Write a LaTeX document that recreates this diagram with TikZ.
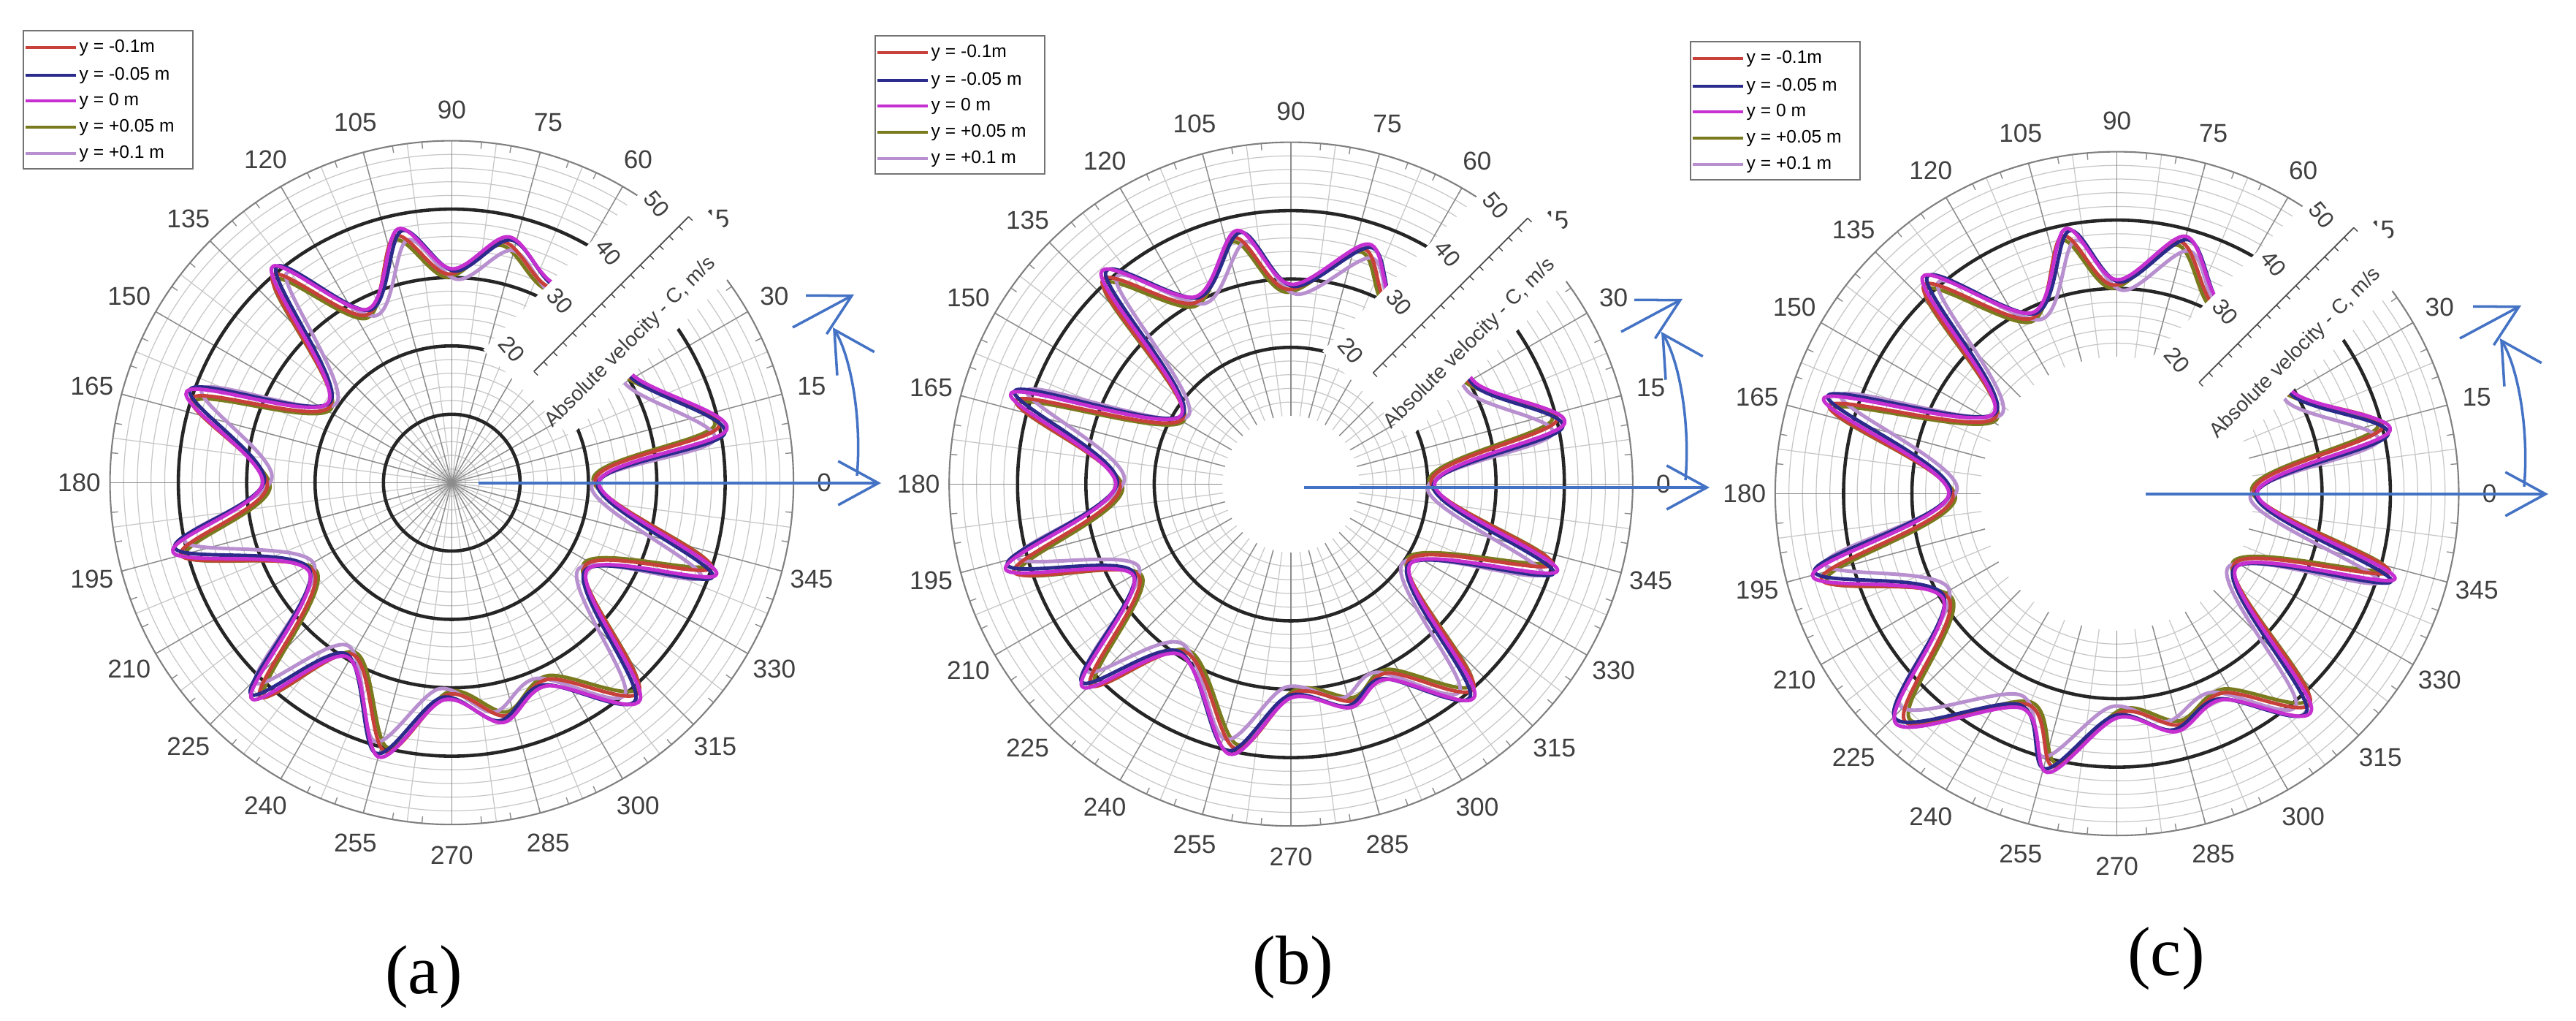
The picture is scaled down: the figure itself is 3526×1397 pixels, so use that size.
\documentclass[tikz,border=0pt]{standalone}
\usepackage{fontspec}
\setmainfont{Liberation Serif}
\setsansfont{Liberation Sans}
\usetikzlibrary{arrows.meta,calc}
\definecolor{cRed}{HTML}{C8403A}
\definecolor{cNavy}{HTML}{2B2B8C}
\definecolor{cMag}{HTML}{C62FD0}
\definecolor{cOlive}{HTML}{7A7A1E}
\definecolor{cLil}{HTML}{B88FCF}
\definecolor{cBlue}{HTML}{4472C4}
\tikzset{
  thinc/.style={draw=black!22, line width=0.35pt},
  spoke/.style={draw=black!22, line width=0.35pt},
  mspoke/.style={draw=black!45, line width=0.4pt},
  thickc/.style={draw=black!85, line width=1.3pt},
  outerc/.style={draw=black!50, line width=0.6pt},
  alabel/.style={font=\sffamily\fontsize{10}{10}\selectfont, text=black!75},
  tlabel/.style={font=\sffamily\fontsize{9}{9}\selectfont, text=black!75, rotate=-50},
  ser/.style={line width=1.4pt, line join=round},
  leg/.style={font=\sffamily\fontsize{7}{7}\selectfont, anchor=west, inner sep=0pt},
  blarrow/.style={draw=cBlue, line width=1pt, -{Straight Barb[length=5.5mm,width=6mm]}},
  sublabel/.style={font=\fontsize{27}{27}\selectfont}
}
\newcommand{\mygrid}[2]{% #1 inner radius, #2 list of thin circles
  \foreach \r in {#2} \path[thinc] (0,0) circle (\r);
  \foreach \t in {0,7.5,...,352.5} \path[spoke] (\t:#1) -- (\t:50);
  \foreach \t in {0,15,...,345} \path[mspoke] (\t:#1) -- (\t:50);
  \foreach \t in {0,5,...,355} \path[mspoke] (\t:49) -- (\t:50);
  \path[outerc] (0,0) circle (50);
  \foreach \t in {0,15,...,345} \node[alabel] at (\t:54.5) {\t};
}
\newcommand{\mycurves}[1]{%
  \draw[ser,cOlive,rotate=1.4,scale=0.985] plot[smooth cycle,tension=0.55] coordinates {#1};
  \draw[ser,cLil,rotate=-1.6,scale=0.975] plot[smooth cycle,tension=0.55] coordinates {#1};
  \draw[ser,cRed,rotate=1.0,scale=1.0] plot[smooth cycle,tension=0.55] coordinates {#1};
  \draw[ser,cNavy,rotate=-0.7,scale=1.015] plot[smooth cycle,tension=0.55] coordinates {#1};
  \draw[ser,cMag,rotate=0,scale=1.025] plot[smooth cycle,tension=0.55] coordinates {#1};
}
\newcommand{\myband}{%
  \begin{scope}[rotate=45]
    \fill[white] (17,-7.5) rectangle (54.5,10.5);
    \draw[black!70, line width=0.5pt] (20,3) -- (52,3);
    \foreach \u in {20,22,...,52} \draw[black!70, line width=0.4pt] (\u,3) -- (\u,2.2);
    \foreach \v in {20,30,40,50} \node[tlabel] at (\v,7.6) {\v};
    \node[font=\sffamily\fontsize{8}{8}\selectfont, text=black!75, rotate=45] at (33,-4) {Absolute velocity - C, m/s};
  \end{scope}
}
\newcommand{\mylegend}[3]{% #1 x, #2 y, #3 name
  \draw[black!55, fill=white, line width=0.5pt] (#1,#2) rectangle ++(232,189);
  \foreach \c/\t/\dy [count=\i] in {cRed/{y = -0.1m}/23, cNavy/{y = -0.05 m}/61, cMag/{y = 0 m}/96, cOlive/{y = +0.05 m}/132, cLil/{y = +0.1 m}/168}{
    \draw[\c, line width=1.4pt] (#1+3,#2+\dy) -- (#1+72,#2+\dy);
    \node[leg] (#3\i) at (#1+76,#2+\dy) {\t};
  }
}
\newcommand{\myarrows}[4]{% #1 name, #2 start x, #3 tip x, #4 tip y
  \coordinate (#1s) at (#2,#4);
  \coordinate (#1t) at (#3,#4);
  \coordinate (#1c1) at ($(#1t)+(-33,-10)$);
  \coordinate (#1c2) at ($(#1t)+(-66,-213)$);
  \coordinate (#1d1) at ($(#1t)+(-121,-213)$);
  \coordinate (#1d2) at ($(#1t)+(-37,-258)$);
  \draw[blarrow] (#1s) -- (#1t);
  \draw[blarrow] (#1c1) .. controls ($(#1t)+(-26,-90)$) and ($(#1t)+(-42,-175)$) .. (#1c2);
  \draw[blarrow] (#1d1) -- (#1d2);
}
\begin{document}
\begin{tikzpicture}[x=0.01cm,y=-0.01cm]
\useasboundingbox (0,0) rectangle (3526,1397);
\fill[white] (0,0) rectangle (3526,1397);
% ---------- (a)
\begin{scope}[shift={(6.18cm,-6.60cm)}, x=0.0935cm, y=0.0935cm]
  \mygrid{0}{2,4,...,48}
  \foreach \r in {10,20,30,40} \path[thickc] (0,0) circle (\r);
  \mycurves{(0:21)(11:40)(31:30)(48:33)(64:32)(77:36)(90:30.5)(102:37)(116:27.5)(130:40)(147:21)(161:40)(180:27)(194:41)(212:24)(227:42)(239:29)(255:40.5)(268:31)(282:35)(295:32)(311:41)(327:23)(341:40)}
  \myband
\end{scope}
% ---------- (b)
\begin{scope}[shift={(17.66cm,-6.62cm)}, x=0.0935cm, y=0.0935cm]
  \mygrid{10}{12,14,...,48}
  \foreach \r in {20,30,40} \path[thickc] (0,0) circle (\r);
  \mycurves{(0:20.5)(12.5:40)(29:30)(47:33)(61:30)(72:36)(90:28.5)(102:37)(117:30)(132:40.5)(148:18.5)(162:42)(180:25)(196.5:42.5)(210:26)(224:41.5)(237:29)(257:39.5)(270:30.5)(285:33)(296:31)(311:40)(326:20.5)(342:40)}
  \myband
\end{scope}
% ---------- (c)
\begin{scope}[shift={(28.96cm,-6.75cm)}, x=0.0935cm, y=0.0935cm]
  \mygrid{20}{22,24,...,48}
  \foreach \r in {30,40} \path[thickc] (0,0) circle (\r);
  \mycurves{(0:20)(13:40)(30:29)(47:33)(62:31)(75:38)(90:30.5)(101:38.5)(115:28.5)(132:41.5)(147:21)(162:44)(180:24)(195:45)(211:29)(226:45.5)(246:33.5)(256:41)(270:32)(284:35)(297:33)(312:41.5)(328:20)(343:41.5)}
  \myband
\end{scope}
% legends
\mylegend{32}{42}{la}
\mylegend{1198}{49}{lb}
\mylegend{2314}{57}{lc}
% blue arrows
\myarrows{aa}{655}{1206}{661}
\myarrows{ab}{1785}{2340}{667}
\myarrows{ac}{2937}{3488}{676}
% sub labels
\node[sublabel] (sa) at (580,1337) {(a)};
\node[sublabel] (sb) at (1770,1324) {(b)};
\node[sublabel] (sc) at (2965,1312) {(c)};
\end{tikzpicture}
\end{document}
